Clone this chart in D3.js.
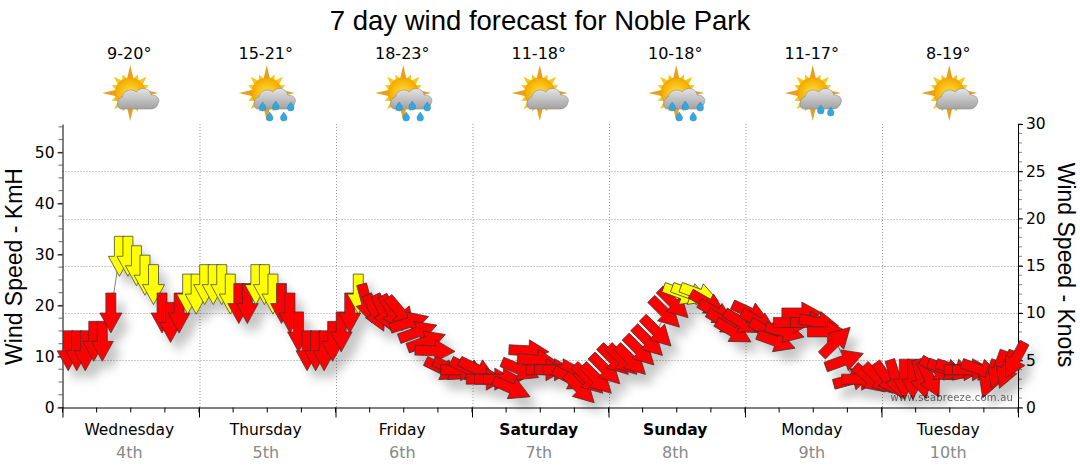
<!DOCTYPE html>
<html>
<head>
<meta charset="utf-8">
<script src="https://cdn.jsdelivr.net/npm/d3@7"></script>
<style>
  html, body { margin: 0; padding: 0; background: #fff; }
  svg { display: block; }
  text { fill: #000; }
</style>
</head>
<body>
<div id="chart"></div>
<script>
// forecast, one entry every 90 minutes
const knots = [6,6,6,7,7,10,16,16,15,14,13,10,9,10,12,12,13,13,13,12,11,11,13,13,12,11,10,8,6,6,6,7,8,10,12,11,10,10,10,10,9,8,7,6,4,4,4,4,4,3,3,3,2,4,6,5,4,4,4,3,2,3,3,4,5,5,5,6,7,8,10,11,12,12,12,11,10,9,8,9,10,9,8,7,8,9,10,9,9,8,7,5,3,3,3,3,3,3,3,3,3,3,4,4,4,4,4,4,3,4,4,5];
// bearing the wind comes from, 0 = arrow pointing straight down
const bearings = [0,0,0,0,0,0,0,0,0,0,0,0,0,0,0,0,0,0,0,0,0,0,0,0,0,0,0,0,0,0,0,0,0,0,0,345,335,335,330,320,253,250,250,272,296,296,270,296,296,270,270,270,294,293,273,275,270,270,270,297,315,315,315,315,315,315,315,315,315,315,315,315,290,290,290,300,300,300,300,300,295,300,300,290,285,270,270,270,280,270,225,250,255,270,310,315,325,343,0,0,346,333,300,290,288,270,270,288,20,20,21,28];
const strong = [6,7,8,9,10,14,15,16,17,18,19,22,23,24,34,72,73,74];

const dayNames = ['Wednesday','Thursday','Friday','Saturday','Sunday','Monday','Tuesday'];
const dayDates = ['4th','5th','6th','7th','8th','9th','10th'];
const weekend = ['Saturday','Sunday'];
const temps = ['9-20°','15-21°','18-23°','11-18°','10-18°','11-17°','8-19°'];
const skies = ['cloud','rain','rain','cloud','rain','shower','cloud'];

const kmhTicks = [0,10,20,30,40,50];
const knotTicks = [0,5,10,15,20,25,30];
const gridKnots = [5,10,15,20,25];

const width = 1080, height = 475;
const margin = { top: 124, right: 62, bottom: 68, left: 62.5 };
const innerRight = width - margin.right;
const innerBottom = height - margin.bottom + 0.5;

const fontFace = '"DejaVu Sans", sans-serif';
const titleFace = '"Liberation Sans", Arial, sans-serif';

const svg = d3.select('#chart').append('svg')
  .attr('width', width)
  .attr('height', height);

const defs = svg.append('defs');

// Shadow under the whole arrow group
const shadow = defs.append('filter')
  .attr('id', 'arrow-shadow')
  .attr('x', '-5%').attr('y', '-20%')
  .attr('width', '110%').attr('height', '150%');
shadow.append('feDropShadow')
  .attr('dx', 8).attr('dy', 10)
  .attr('stdDeviation', 5)
  .attr('flood-color', '#000')
  .attr('flood-opacity', 0.22);

const sunFill = defs.append('radialGradient').attr('id', 'sun-fill');
sunFill.append('stop').attr('offset', '0%').attr('stop-color', '#ffe23a');
sunFill.append('stop').attr('offset', '100%').attr('stop-color', '#f5a800');
const cloudFill = defs.append('linearGradient').attr('id', 'cloud-fill').attr('x2', 0).attr('y2', 1);
cloudFill.append('stop').attr('offset', '0%').attr('stop-color', '#e4e4e4');
cloudFill.append('stop').attr('offset', '100%').attr('stop-color', '#a2a2a2');

// Scales
const x = d3.scaleLinear().domain([0, 168]).range([margin.left, innerRight]);
const yKmh = d3.scaleLinear().domain([0, 30 * 1.852]).range([innerBottom, margin.top]);
const yKnots = d3.scaleLinear().domain([0, 30]).range([innerBottom, margin.top]);
const hourOf = i => 1 + i * 1.5;

// Grid
const grid = svg.append('g')
  .attr('stroke', '#999')
  .attr('stroke-dasharray', '1,2');
grid.selectAll('.h').data(gridKnots).join('line')
  .attr('x1', margin.left).attr('x2', innerRight)
  .attr('y1', d => Math.round(yKnots(d)) + 0.5)
  .attr('y2', d => Math.round(yKnots(d)) + 0.5);
grid.selectAll('.v').data(d3.range(1, 7)).join('line')
  .attr('x1', d => x(d * 24) + 1).attr('x2', d => x(d * 24) + 1)
  .attr('y1', margin.top).attr('y2', innerBottom);

// Axes
const leftAxis = d3.axisLeft(yKmh).tickValues(kmhTicks).tickFormat(d3.format('d')).tickSize(5);
const rightAxis = d3.axisRight(yKnots).tickValues(knotTicks).tickFormat(d3.format('d')).tickSize(5);
const bottomAxis = d3.axisBottom(x).tickValues(d3.range(0, 169, 24)).tickFormat('').tickSize(10);

function minorTicks(g, values, scale, horizontal, from, to, colour) {
  g.selectAll('.minor').data(values).join('line')
    .attr('stroke', colour)
    .attr('x1', horizontal ? d => scale(d) : from)
    .attr('x2', horizontal ? d => scale(d) : to)
    .attr('y1', horizontal ? from : d => scale(d))
    .attr('y2', horizontal ? to : d => scale(d));
}

minorTicks(svg.append('g').attr('transform', `translate(${margin.left},0)`),
  d3.range(0, 55.6, 2.5), yKmh, false, -4, 0, '#666');
minorTicks(svg.append('g').attr('transform', `translate(${innerRight},0)`),
  d3.range(0, 31), yKnots, false, 0, 4, '#888');
minorTicks(svg.append('g').attr('transform', `translate(0,${innerBottom})`),
  d3.range(0, 169, 6), x, true, 0, 5, '#000');

const axisStyle = g => {
  g.selectAll('text')
    .style('font-family', fontFace)
    .style('font-size', '15.5px')
    .attr('fill', '#000');
  g.selectAll('path,line').attr('stroke', '#000');
};

svg.append('g').attr('transform', `translate(${margin.left},0)`)
  .call(leftAxis.tickSizeOuter(0)).call(axisStyle);
svg.append('g').attr('transform', `translate(${innerRight},0)`)
  .call(rightAxis.tickSizeOuter(0)).call(axisStyle);
svg.append('g').attr('transform', `translate(0,${innerBottom})`)
  .call(bottomAxis.tickSizeOuter(0)).call(axisStyle);

// Thin line through the points
const line = d3.line()
  .x((d, i) => x(hourOf(i)))
  .y(d => yKnots(d));
svg.append('path')
  .datum(knots)
  .attr('fill', 'none')
  .attr('stroke', '#888')
  .attr('d', line);

// Arrows: head base sits on the value, pointing down before rotation
const arrowShape = 'M-5,-20L5,-20L5,0L11,0L0,20L-11,0L-5,0Z';
svg.append('g')
  .attr('filter', 'url(#arrow-shadow)')
  .selectAll('path')
  .data(knots)
  .join('path')
  .attr('d', arrowShape)
  .attr('transform', (d, i) => `translate(${x(hourOf(i))},${yKnots(d)}) rotate(${bearings[i]})`)
  .attr('fill', (d, i) => strong.includes(i) ? '#ffff00' : '#ff0000')
  .attr('stroke', '#333')
  .attr('stroke-width', 0.7);

// Watermark
svg.append('text')
  .attr('x', 1013).attr('y', 401)
  .attr('text-anchor', 'end')
  .style('font-family', fontFace)
  .style('font-size', '10px')
  .style('letter-spacing', '0.2px')
  .attr('fill', '#999')
  .attr('opacity', 0.6)
  .text('www.seabreeze.com.au');

// Day labels under the axis
const dayCentre = d => x(d * 24 + 12) - 1.5;
svg.append('g').selectAll('text').data(dayNames).join('text')
  .attr('x', (d, i) => dayCentre(i))
  .attr('y', 435)
  .attr('text-anchor', 'middle')
  .style('font-family', fontFace)
  .style('font-size', '15.5px')
  .style('font-weight', d => weekend.includes(d) ? 'bold' : 'normal')
  .text(d => d);
svg.append('g').selectAll('text').data(dayDates).join('text')
  .attr('x', (d, i) => dayCentre(i))
  .attr('y', 458)
  .attr('text-anchor', 'middle')
  .style('font-family', fontFace)
  .style('font-size', '16px')
  .style('fill', '#888')
  .text(d => d);

// Temperatures
svg.append('g').selectAll('text').data(temps).join('text')
  .attr('x', (d, i) => dayCentre(i))
  .attr('y', 59)
  .attr('text-anchor', 'middle')
  .style('font-family', fontFace)
  .style('font-size', '16px')
  .text(d => d);

// Weather icons
const iconGroups = svg.append('g').selectAll('g').data(skies).join('g')
  .attr('transform', (d, i) => `translate(${dayCentre(i) + 1},93)`);

iconGroups.each(function (sky) {
  const g = d3.select(this);
  // sun rays, long and short in turn
  d3.range(16).forEach(r => {
    const long = r % 4 === 0;
    const reach = long ? 28 : (r % 2 === 0 ? 23 : 20);
    g.append('path')
      .attr('d', `M-3.5,-13L0,${-reach}L3.5,-13Z`)
      .attr('transform', `rotate(${r * 22.5})`)
      .attr('fill', long ? '#e8a020' : '#f8c818');
  });
  g.append('circle').attr('r', 15).attr('fill', 'url(#sun-fill)').attr('stroke', '#e89a00').attr('stroke-width', 0.5);
  // cloud
  g.append('path')
    .attr('d', 'M-9,16 C-14,16 -14,5 -8,4 C-7,-3 2,-5 6,-1 C10,-7 20,-5 21,2 C27,2 30,6 28,10 C27,14 24,16 20,16 Z')
    .attr('fill', 'url(#cloud-fill)')
    .attr('stroke', '#8a8a8a')
    .attr('stroke-width', 0.6);
  // rain drops, small teardrops
  const drops = sky === 'rain'
    ? [[-4, 14], [9, 13], [24, 14], [3, 24], [17, 24]]
    : sky === 'shower' ? [[8, 17], [18, 19]] : [];
  drops.forEach(p => {
    g.append('path')
      .attr('d', 'M0,-5 C1,-3 3.3,-1.5 3.3,0.8 A3.3,3.3 0 1 1 -3.3,0.8 C-3.3,-1.5 -1,-3 0,-5 Z')
      .attr('transform', `translate(${p[0]},${p[1]})`)
      .attr('fill', '#35a6e0').attr('stroke', '#1d7fb5').attr('stroke-width', 0.4);
  });
});

// Title and axis titles
svg.append('text')
  .attr('x', 540).attr('y', 30)
  .attr('text-anchor', 'middle')
  .style('font-family', titleFace)
  .style('font-size', '27.5px')
  .text('7 day wind forecast for Noble Park');

svg.append('text')
  .attr('transform', 'translate(22,266.5) rotate(-90)')
  .attr('text-anchor', 'middle')
  .style('font-family', titleFace)
  .style('font-size', '23px')
  .text('Wind Speed - KmH');

svg.append('text')
  .attr('transform', 'translate(1058,265) rotate(90)')
  .attr('text-anchor', 'middle')
  .style('font-family', titleFace)
  .style('font-size', '23px')
  .text('Wind Speed - Knots');
</script>
</body>
</html>
